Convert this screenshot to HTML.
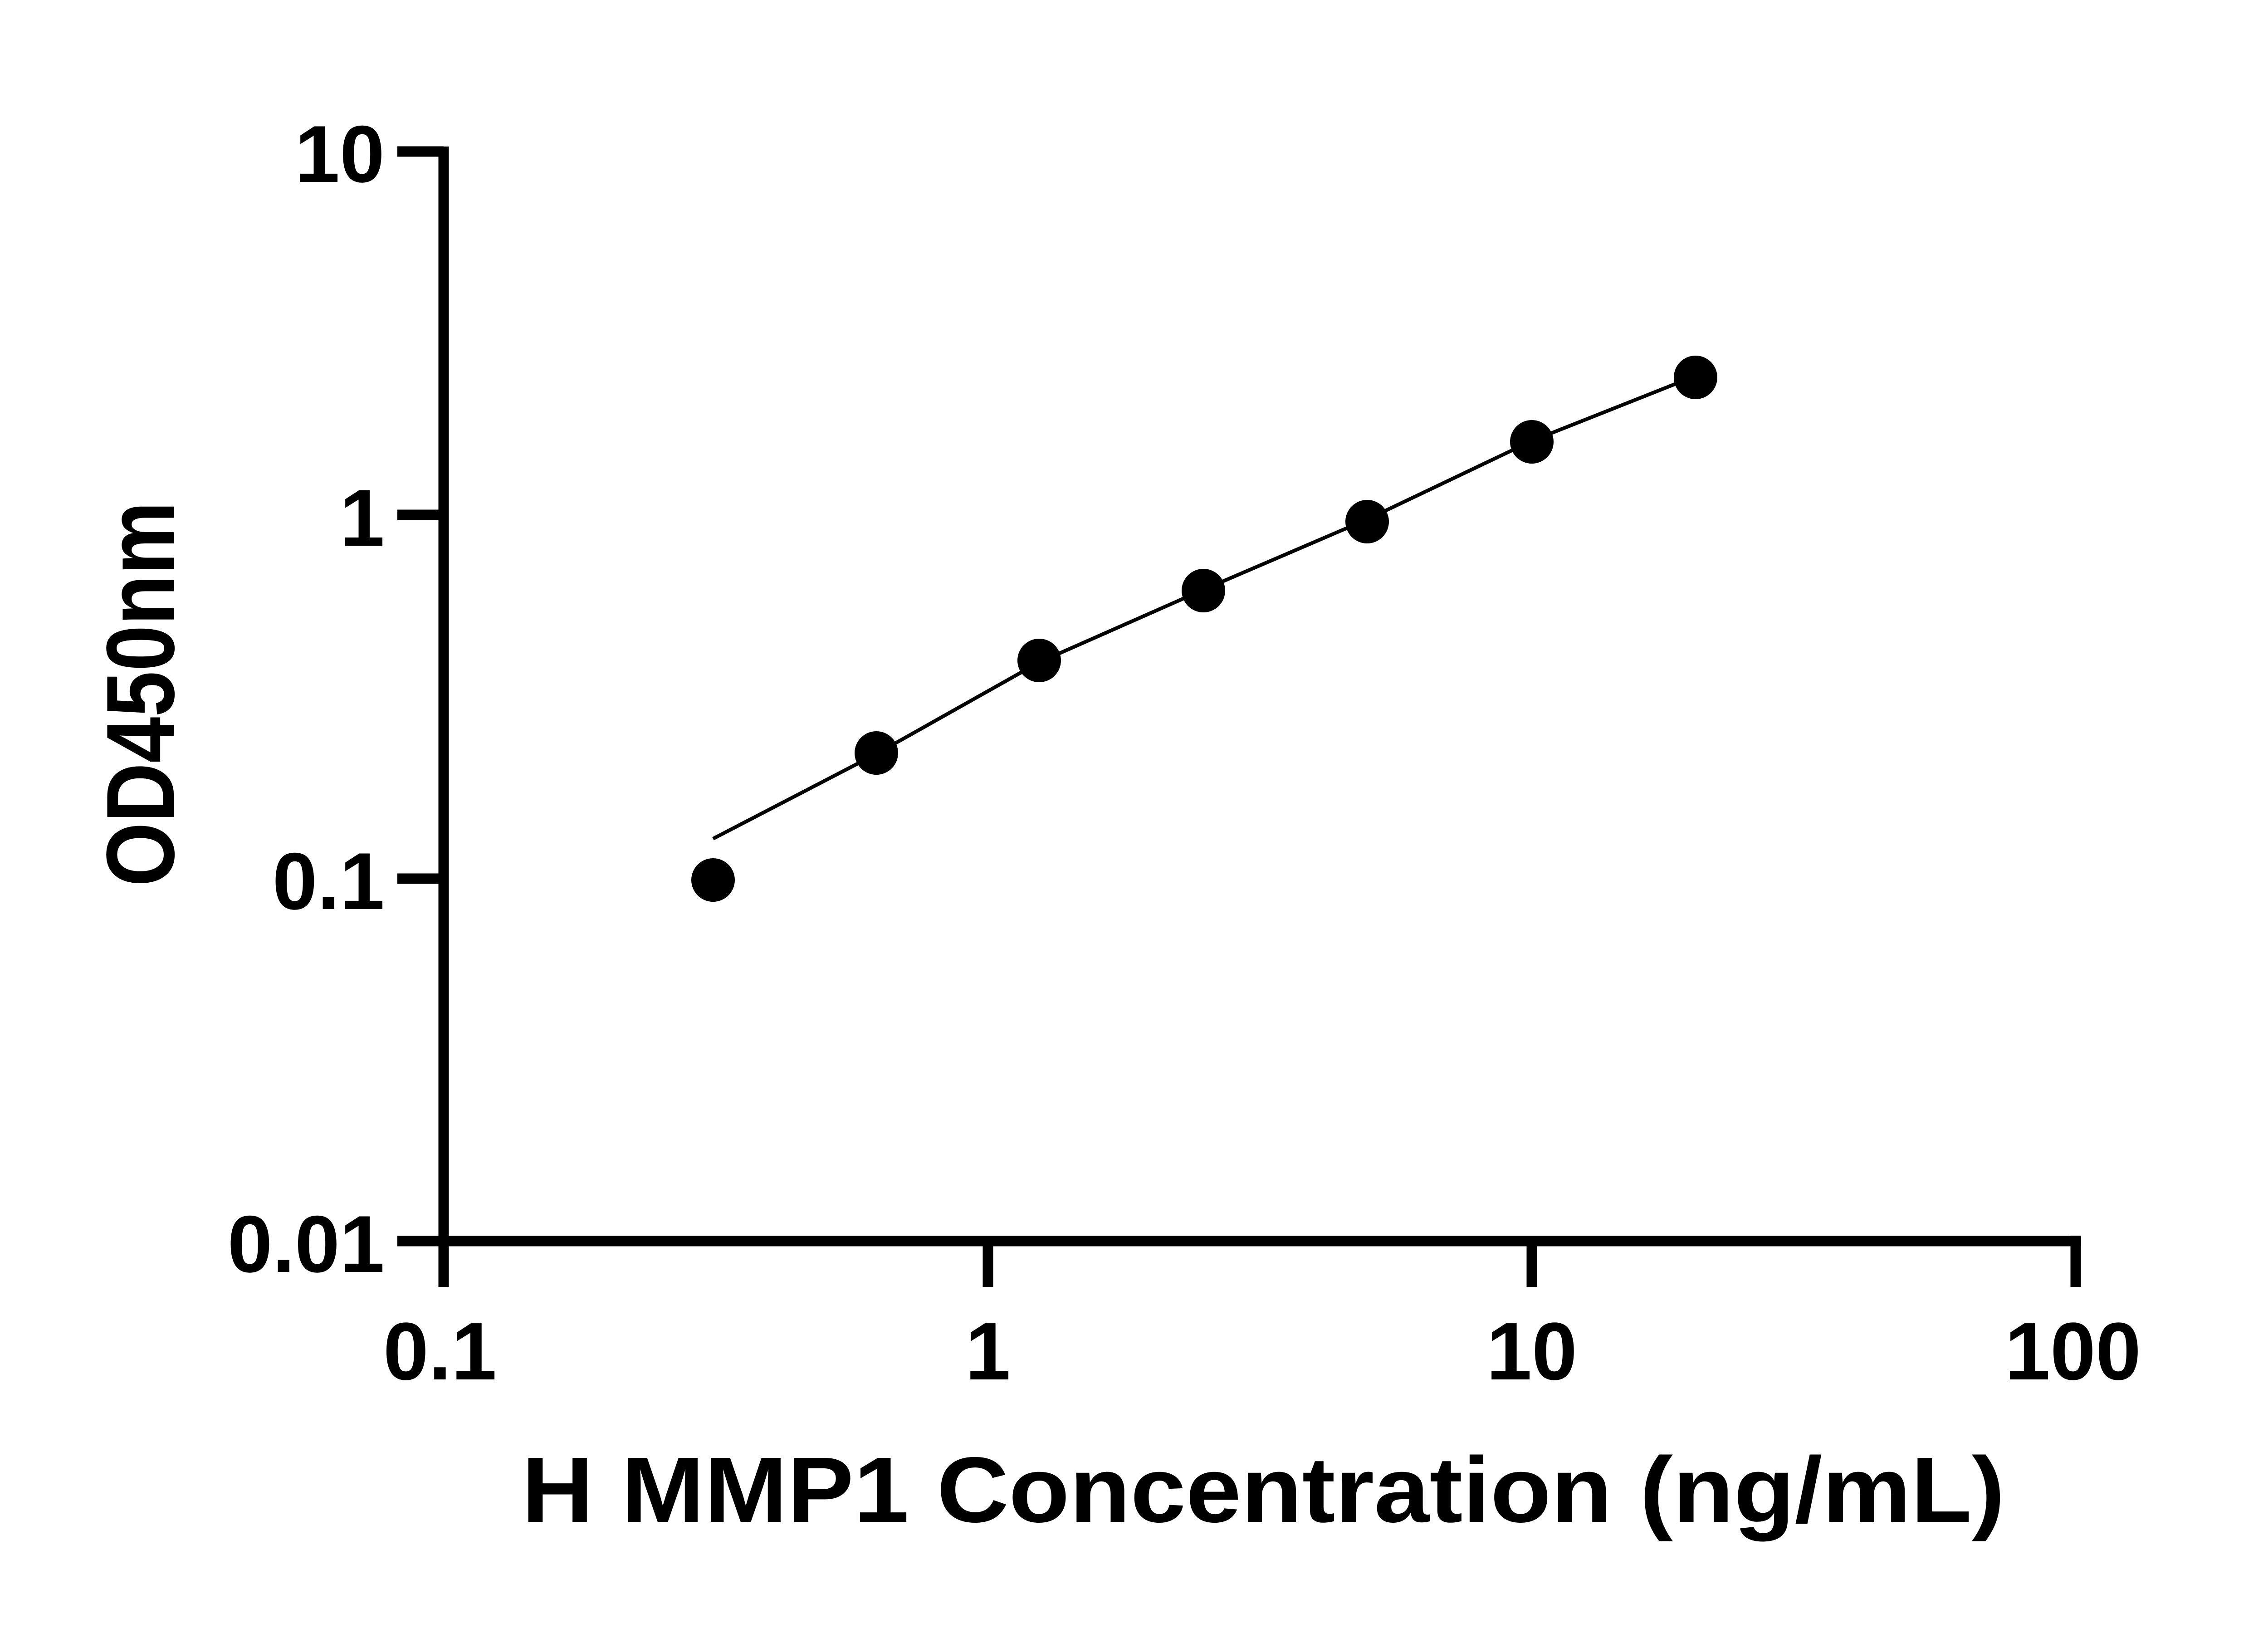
<!DOCTYPE html>
<html><head><meta charset="utf-8"><style>html,body{margin:0;padding:0;background:#fff}svg{display:block}</style></head>
<body>
<svg width="5130" height="3600" viewBox="0 0 5130 3600" xmlns="http://www.w3.org/2000/svg" font-family="Liberation Sans, sans-serif" font-weight="bold" fill="#000">
<rect width="5130" height="3600" fill="#fff"/>
<g stroke="#000" stroke-width="23" fill="none">
<line x1="978" y1="323" x2="978" y2="2837"/>
<line x1="876" y1="334" x2="978" y2="334"/>
<line x1="876" y1="1135" x2="978" y2="1135"/>
<line x1="876" y1="1937" x2="978" y2="1937"/>
<line x1="876" y1="2736" x2="4588" y2="2736"/>
<line x1="2178" y1="2736" x2="2178" y2="2837"/>
<line x1="3377" y1="2736" x2="3377" y2="2837"/>
<line x1="4576" y1="2724" x2="4576" y2="2837"/>
</g>
<g font-size="178" text-anchor="end">
<text x="848" y="401">10</text>
<text x="848" y="1203">1</text>
<text x="848" y="2004">0.1</text>
<text x="848" y="2804">0.01</text>
</g>
<g font-size="180" text-anchor="middle">
<text x="970" y="3041">0.1</text>
<text x="2178" y="3041">1</text>
<text x="3377" y="3041">10</text>
<text x="4570" y="3041">100</text>
</g>
<text x="2785" y="3355" font-size="205" text-anchor="middle" textLength="3270" lengthAdjust="spacingAndGlyphs">H MMP1 Concentration (ng/mL)</text>
<text transform="translate(383,1530) rotate(-90)" font-size="213" text-anchor="middle" textLength="849" lengthAdjust="spacingAndGlyphs">OD450nm</text>
<polyline fill="none" stroke="#000" stroke-width="8" points="1572,1849 1932,1662 2291,1460 2653,1300 3014,1145 3377,972 3697,845"/>
<g>
<circle cx="1572" cy="1940" r="48"/>
<circle cx="1932" cy="1660" r="48"/>
<circle cx="2291" cy="1456" r="48"/>
<circle cx="2653" cy="1302" r="48"/>
<circle cx="3014" cy="1150" r="48"/>
<circle cx="3377" cy="974" r="48"/>
<circle cx="3738" cy="832" r="48"/>
</g>
</svg>
</body></html>
